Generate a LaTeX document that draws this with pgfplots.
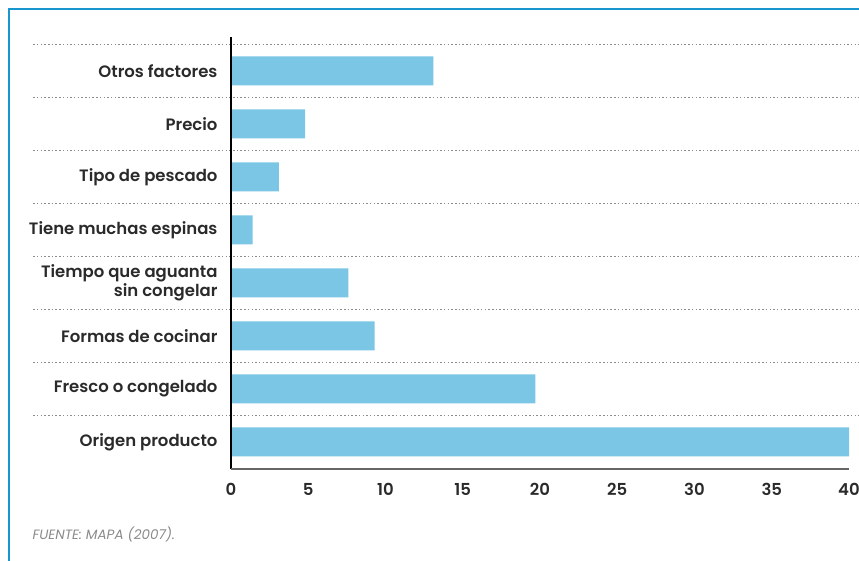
\documentclass[border=0pt]{standalone}
\usepackage{fontspec}
\setmainfont{Poppins}[BoldFont={Poppins SemiBold}]
\usepackage{pgfplots}
\pgfplotsset{compat=1.18}
\definecolor{barblue}{HTML}{7AC6E4}
\definecolor{frameblue}{HTML}{1A96CF}
\definecolor{txt}{HTML}{2A2A2A}
\definecolor{dotgray}{HTML}{8C8C8C}
\definecolor{srcgray}{HTML}{8A8A8A}
\definecolor{axgray}{HTML}{666666}
\begin{document}
\begin{tikzpicture}[x=1bp,y=1bp]
\path[use as bounding box] (0,0) rectangle (859,561);
\draw[frameblue, line width=2bp] (9,0) -- (9,552) -- (860,552);
\begin{axis}[
  at={(231bp,92bp)}, anchor=south west,
  scale only axis, width=618bp, height=432bp,
  xbar, bar width=29bp,
  xmin=0, xmax=40, ymin=-0.51, ymax=7.64,
  clip=false,
  axis line style={draw=none},
  xtick={0,5,...,40},
  ytick={0,...,7},
  yticklabels={Origen producto,Fresco o congelado,Formas de cocinar,{Tiempo que aguanta\\sin congelar},Tiene muchas espinas,Tipo de pescado,Precio,Otros factores},
  yticklabel style={align=right, font=\fontsize{16.5bp}{19bp}\selectfont\bfseries, text=txt, xshift=-10bp},
  xticklabel style={font=\fontsize{16.5bp}{19bp}\selectfont\bfseries, text=txt, yshift=-11bp},
  /pgf/number format/assume math mode=true,
  major tick length=0pt,
  tick style={draw=none},
]
\addplot[fill=barblue, draw=none] coordinates {
  (40,0) (19.7,1) (9.3,2) (7.6,3) (1.4,4) (3.1,5) (4.8,6) (13.1,7)
};
\foreach \yy in {0.5,1.5,2.5,3.5,4.5,5.5,6.5,7.5} {
  \edef\tmp{\noexpand\draw[dotgray, line width=1.5bp, dash pattern=on 1.5bp off 2.2bp] (axis cs:-12.8,\yy) -- (axis cs:40.65,\yy);}
  \tmp
}
\draw[black, line width=1.2bp] (axis cs:0,-0.51) -- (axis cs:0,7.64);
\draw[axgray, line width=2.5bp] (axis cs:0,-0.51) -- (axis cs:40,-0.51);
\end{axis}
\node[anchor=west, text=srcgray, font=\fontsize{13.5bp}{15bp}\selectfont\itshape] at (29,27) {FUENTE: MAPA (2007).};
\end{tikzpicture}
\end{document}
